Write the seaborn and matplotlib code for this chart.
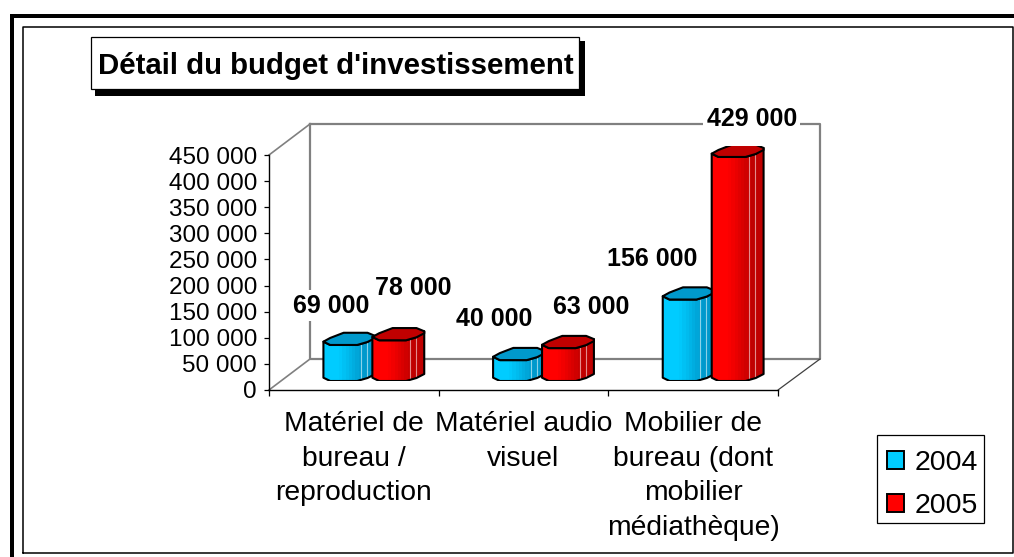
# Détail du budget d'investissement - Excel style 3D cylinder columns
import numpy as np
import pandas as pd
import matplotlib
matplotlib.use('Agg')
import matplotlib.pyplot as plt
from matplotlib.patches import Polygon, Rectangle
from matplotlib.colors import to_rgb
import seaborn as sns

categories = ['Matériel de\nbureau /\nreproduction', 'Matériel audio\nvisuel',
              'Mobilier de\nbureau (dont\nmobilier\nmédiathèque)']
years = ['2004', '2005']
values_2004 = [69000, 40000, 156000]
values_2005 = [78000, 63000, 429000]
y_ticks = [0, 50000, 100000, 150000, 200000, 250000, 300000, 350000, 400000, 450000]
label_offsets = [(-18, 39), (-25, 41), (-37, 41), (15, 52), (23, 41), (14, 38)]

W, H = 1014, 557
BLUE, BLUE_DARK, BLUE_TOP = '#00CCFF', '#0099CC', '#0099CC'
RED, RED_DARK, RED_TOP = '#FF0000', '#C00000', '#C00000'

sns.set_theme(style='white')
plt.rcParams['font.family'] = ['Liberation Sans', 'DejaVu Sans']

df = pd.DataFrame({
    'categorie': categories * 2,
    'annee': [years[0]] * 3 + [years[1]] * 3,
    'montant': values_2004 + values_2005,
})

fig = plt.figure(figsize=(W / 100, H / 100), dpi=100, facecolor='white')


def px_axes(x0, y0, x1, y1, **kw):
    # axes from pixel box (y measured from the top of the image)
    return fig.add_axes([x0 / W, 1 - y1 / H, (x1 - x0) / W, (y1 - y0) / H], **kw)


# background layer in pixels: frame, title box, 3D walls, legend box
bg = px_axes(0, 0, W, H, zorder=0)
bg.set_xlim(0, W)
bg.set_ylim(H, 0)
bg.axis('off')
bg.add_patch(Rectangle((10, 14), 4, H - 14, fc='black', ec='none'))
bg.add_patch(Rectangle((10, 14), W - 10, 4, fc='black', ec='none'))
bg.plot([23, 23, 1013, 1013, 23], [553, 27, 27, 553, 553], color='black', lw=1.1)
wall = dict(color='#808080', solid_capstyle='projecting')
bg.plot([310, 820, 820, 310, 310], [124, 124, 359, 359, 124], lw=1.6, **wall)
bg.plot([269, 310], [155, 124], lw=1.2, **wall)
bg.plot([269, 310], [390, 359], lw=1.2, **wall)
bg.plot([778, 820], [390, 359], color='#404040', lw=0.9)
bg.add_patch(Rectangle((95, 41), 490, 55, fc='black', ec='none'))
bg.add_patch(Rectangle((91, 37), 488, 52, fc='white', ec='black', lw=0.9))
bg.text(336, 66, "Détail du budget d'investissement", fontsize=21.2, fontweight='bold',
        color='black', ha='center', va='center')
bg.add_patch(Rectangle((877, 435), 107, 88, fc='white', ec='black', lw=0.9))

# front axes with the value scale
ax = px_axes(269, 155, 778, 390, zorder=1)
ax.patch.set_alpha(0)
ax.set_xlim(0, 3)
ax.set_ylim(0, 450000)
ax.set_yticks(y_ticks)
ax.set_yticklabels([f'{v:,}'.replace(',', ' ') for v in y_ticks], fontsize=17.5, color='black')
ax.set_xticks([0, 1, 2, 3])
ax.set_xticklabels([])
ax.set_xticks([0.5, 1.5, 2.5], labels=categories, minor=True)
ax.tick_params(axis='y', left=True, length=3.6, width=0.9, color='black', pad=5)
ax.tick_params(axis='x', which='major', bottom=True, length=4.5, width=0.9, color='black')
ax.tick_params(axis='x', which='minor', bottom=False, length=0, pad=15, labelsize=20.3,
               labelcolor='black')
for lab in ax.get_xticklabels(minor=True):
    lab.set_linespacing(1.44)
ax.spines['top'].set_visible(False)
ax.spines['right'].set_visible(False)
for s in ['left', 'bottom']:
    ax.spines[s].set_color('black')
    ax.spines[s].set_linewidth(1.0)

# bars stand further back on the floor, so they get a shifted axes
bars_ax = px_axes(289, 146, 798, 381, zorder=2)
bars_ax.patch.set_alpha(0)
sns.barplot(data=df, x='categorie', y='montant', hue='annee', hue_order=years,
            palette=[BLUE, RED], saturation=1, width=0.577, gap=-0.06, edgecolor='black',
            linewidth=0, dodge=True, ax=bars_ax)
bars_ax.set_xlim(-0.5, 2.5)
bars_ax.set_ylim(0, 450000)
bars_ax.axis('off')

unit = 450000 / 235  # value per pixel
bars = list(bars_ax.patches)[:6]
styles = [(BLUE, BLUE_DARK, BLUE_TOP)] * 3 + [(RED, RED_DARK, RED_TOP)] * 3

for i, (bar, style) in enumerate(zip(bars, styles)):
    x0, w, h = bar.get_x(), bar.get_width(), bar.get_height()
    light, dark, top = style
    z = 3 + (i // 3) * 3

    def pt(u, dy, base):
        return (x0 + w * u, base + dy * unit)

    body = Polygon([pt(0, 3.3, 0), pt(0.13, 0, 0), pt(0.65, 0, 0), pt(0.85, 3, 0), pt(1, 7, 0),
                    pt(1, 9, h), pt(0.85, 3, h), pt(0.65, 0, h), pt(0.13, 0, h), pt(0, 3.3, h)],
                   closed=True, fc='none', ec='black', lw=1.5, zorder=z + 1, joinstyle='round')
    bars_ax.add_patch(body)
    bar.set_zorder(z)
    bar.set_clip_path(body)

    # shading of the facets, left to right
    u = np.linspace(0, 1, 16)
    t = np.interp(u, [0, 0.3, 0.8, 1], [0, 0, 1, 1])
    a, b = np.array(to_rgb(light)), np.array(to_rgb(dark))
    img = (a[None, :] * (1 - t[:, None]) + b[None, :] * t[:, None])[None, :, :]
    im = bars_ax.imshow(img, extent=[x0, x0 + w, 0, h + 12 * unit], aspect='auto',
                        interpolation='nearest', zorder=z + 0.2)
    im.set_clip_path(body)
    for ul in [0.725, 0.84]:
        ln, = bars_ax.plot([x0 + w * ul] * 2, [0, h + 12 * unit], color='white', alpha=0.55,
                           lw=0.8, zorder=z + 0.5)
        ln.set_clip_path(body)

    bars_ax.add_patch(Polygon([pt(0, 3.3, h), pt(0.13, 0, h), pt(0.65, 0, h), pt(0.85, 3, h),
                               pt(1, 7, h), pt(1, 9, h), pt(0.85, 12.2, h), pt(0.39, 12.2, h),
                               pt(0.13, 7, h)],
                              closed=True, fc=top, ec='black', lw=1.5, zorder=z + 2,
                              joinstyle='round'))

    dx, dy = label_offsets[i]
    bars_ax.annotate(f'{h:,.0f}'.replace(',', ' '), xy=(x0 + w / 2, h), xytext=(dx, dy),
                     textcoords='offset pixels', ha='center', va='center', fontsize=18,
                     fontweight='bold', color='black', zorder=20,
                     bbox=dict(fc='white', ec='none', pad=2.5))

bars_ax.set_xlim(-0.5, 2.5)
bars_ax.set_ylim(0, 450000)

# legend, its box is drawn on the background layer
sns.move_legend(bars_ax, loc='upper left', bbox_to_anchor=(877 / W, 1 - 439.5 / H),
                bbox_transform=fig.transFigure, title=None, frameon=False, fontsize=20.5,
                handlelength=0.6, handleheight=0.6, handletextpad=0.36, labelspacing=0.62,
                borderpad=0.36, borderaxespad=0, labelcolor='black')
leg = bars_ax.get_legend()
leg.set_zorder(30)
for patch in leg.get_patches():
    patch.set_edgecolor('black')
    patch.set_linewidth(1.4)

fig.savefig('out.png', dpi=100)
